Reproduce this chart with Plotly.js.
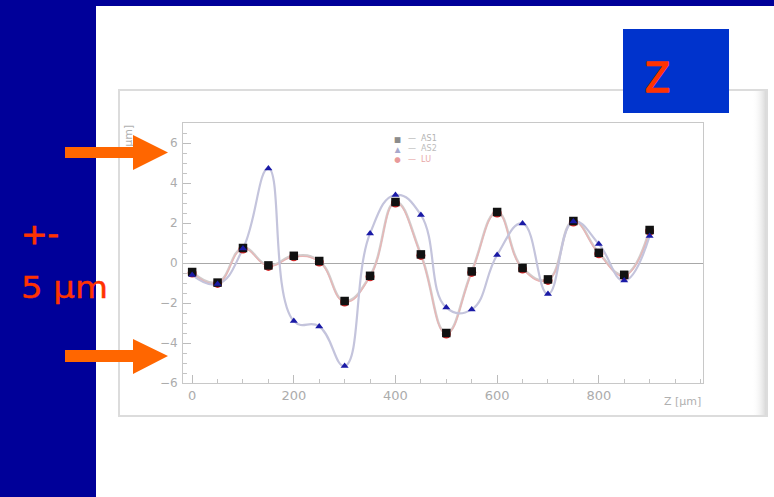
<!DOCTYPE html>
<html>
<head>
<meta charset="utf-8">
<script src="https://cdn.plot.ly/plotly-3.0.1.min.js"></script>
<style>
  html, body { margin: 0; padding: 0; background: #ffffff; }
  #slide { position: relative; width: 774px; height: 497px; overflow: hidden; background: #ffffff; }
  #bg, #fg { position: absolute; left: 0; top: 0; }
  #chart { position: absolute; left: 0; top: 0; width: 774px; height: 497px; }
</style>
</head>
<body>
<div id="slide">
  <svg id="bg" width="774" height="497">
    <defs>
      <linearGradient id="shade" x1="0" x2="1" y1="0" y2="0">
        <stop offset="0" stop-color="#ffffff" stop-opacity="0"/>
        <stop offset="1" stop-color="#d8d8d8" stop-opacity="1"/>
      </linearGradient>
    </defs>
    <!-- slide frame: dark band on the left and along the top -->
    <rect x="0" y="0" width="96" height="497" fill="#000099"/>
    <rect x="0" y="0" width="774" height="6" fill="#000099"/>
    <!-- canvas panel around the graph -->
    <rect x="119" y="90" width="648" height="326" fill="#ffffff" stroke="#dcdcdc" stroke-width="2"/>
    <rect x="752" y="91" width="14" height="324" fill="url(#shade)"/>
  </svg>
  <div id="chart"></div>
  <svg id="fg" width="774" height="497">
    <!-- coordinate label box -->
    <rect x="623" y="29" width="106" height="84" fill="#0033cc"/>
    <text x="645" y="92" font-family="DejaVu Sans, sans-serif" font-size="40" fill="#ff3300" stroke="#ff3300" stroke-width="1.6" stroke-linejoin="round" textLength="25" lengthAdjust="spacingAndGlyphs">Z</text>
    <!-- tolerance note -->
    <text x="21" y="244" font-family="DejaVu Sans, sans-serif" font-size="28" fill="#ff3300" stroke="#ff3300" stroke-width="0.8" textLength="38" lengthAdjust="spacingAndGlyphs">+-</text>
    <text x="21" y="298" font-family="DejaVu Sans, sans-serif" font-size="31" fill="#ff3300" stroke="#ff3300" stroke-width="0.4" textLength="87" lengthAdjust="spacingAndGlyphs">5 µm</text>
    <!-- arrows pointing at the ±5 µm levels -->
    <polygon points="65,147 133,147 133,135 168,152.5 133,170 133,158 65,158" fill="#ff6600"/>
    <polygon points="65,350 133,350 133,339 168,356 133,374 133,362 65,362" fill="#ff6600"/>
  </svg>
</div>
<script>
// Z positions along the sensor [µm]
const zPos = [0, 50, 100, 150, 200, 250, 300, 350, 400, 450, 500, 550, 600, 650, 700, 750, 800, 850, 900];

// measured deviations [µm] for each survey
const as1 = [-0.45, -0.98, 0.75, -0.12, 0.36, 0.10, -1.90, -0.64, 3.05, 0.43, -3.50, -0.42, 2.55, -0.25, -0.82, 2.10, 0.51, -0.59, 1.65];
const as2 = [-0.60, -1.05, 0.72, 4.73, -2.90, -3.17, -5.15, 1.48, 3.40, 2.40, -2.23, -2.32, 0.40, 1.98, -1.55, 2.07, 0.95, -0.88, 1.35];
const lu  = [-0.50, -1.02, 0.70, -0.17, 0.31, 0.05, -1.95, -0.69, 3.00, 0.38, -3.55, -0.47, 2.50, -0.30, -0.87, 2.05, 0.46, -0.64, 1.60];

const seriesNames = ["AS1", "AS2", "LU"];
const xTicks = [0, 200, 400, 600, 800];
const yTicks = [-6, -4, -2, 0, 2, 4, 6];

const lineShape = { shape: "spline", smoothing: 1.3 };

const traces = [
  // smooth curves underneath
  { x: zPos, y: as1, mode: "lines", line: Object.assign({ color: "#d2cccc", width: 2.6 }, lineShape), hoverinfo: "skip" },
  { x: zPos, y: lu,  mode: "lines", line: Object.assign({ color: "#e9b4b4", width: 1.2 }, lineShape), hoverinfo: "skip" },
  { x: zPos, y: as2, mode: "lines", line: Object.assign({ color: "#c4c4dc", width: 2.2 }, lineShape), hoverinfo: "skip" },
  // markers on top
  { x: zPos, y: lu,  mode: "markers", name: seriesNames[2], marker: { symbol: "circle", size: 9, color: "#d42a2a" } },
  { x: zPos, y: as1, mode: "markers", name: seriesNames[0], marker: { symbol: "square", size: 8.5, color: "#111111" } },
  { x: zPos, y: as2, mode: "markers", name: seriesNames[1], marker: { symbol: "triangle-up", size: 7, color: "#1a1aa6" } }
];

// plot area in pixels: x 183..703, y 123..383
const px = v => (v - 183) / 520;
const py = v => (383 - v) / 260;

// legend: marker column and label column, three rows each
const legendSyms = [["■", "#8c8c8c"], ["▲", "#a8a8cc"], ["●", "#e89a9a"]];
const legendCols = ["#b4b4b4", "#bcbcbc", "#e8a8a8"];
const symText = legendSyms.map(s => '<span style="color:' + s[1] + '">' + s[0] + '</span>').join("<br>");
const labText = seriesNames.map((n, i) => '<span style="color:' + legendCols[i] + '">—  ' + n + '</span>').join("<br>");

const annotations = [
  { xref: "paper", yref: "paper", x: px(397), y: py(149), text: symText, showarrow: false, align: "center",
    xanchor: "center", yanchor: "middle", font: { family: "DejaVu Sans", size: 7.5, color: "#999" } },
  { xref: "paper", yref: "paper", x: px(406), y: py(149), text: labText, showarrow: false, align: "left",
    xanchor: "left", yanchor: "middle", font: { family: "DejaVu Sans", size: 8, color: "#b4b4b4" } },
  { xref: "paper", yref: "paper", x: px(128), y: py(123), text: "[µm]", textangle: -90, showarrow: false,
    xanchor: "center", yanchor: "top", font: { family: "DejaVu Sans", size: 11, color: "#b0b0b0" } },
  { xref: "paper", yref: "paper", x: 1.0, y: py(401), text: "Z [µm]", showarrow: false,
    xanchor: "right", yanchor: "middle", font: { family: "DejaVu Sans", size: 11, color: "#b0b0b0" } }
];

const axisCommon = {
  showgrid: false, showline: true, mirror: true, linecolor: "#c8c8c8", linewidth: 1,
  ticks: "inside", ticklen: 8, tickcolor: "#bcbcbc", tickwidth: 1,
  tickfont: { family: "DejaVu Sans", size: 13, color: "#acacac" }
};

const layout = {
  width: 774, height: 497,
  margin: { l: 183, r: 71, t: 123, b: 114, pad: 0 },
  paper_bgcolor: "rgba(0,0,0,0)", plot_bgcolor: "rgba(0,0,0,0)",
  showlegend: false,
  xaxis: Object.assign({}, axisCommon, {
    range: [-18, 1005], tickvals: xTicks, ticktext: xTicks.map(String), zeroline: false,
    minor: { dtick: 50, tick0: 0, ticks: "inside", ticklen: 4, tickcolor: "#c4c4c4" }
  }),
  yaxis: Object.assign({}, axisCommon, {
    range: [-6, 7], tickvals: yTicks, ticktext: yTicks.map(v => v < 0 ? "\u2212" + Math.abs(v) : String(v)),
    zeroline: true, zerolinecolor: "#a8a8a8", zerolinewidth: 1, ticklabelstandoff: 2,
    tickfont: { family: "DejaVu Sans", size: 12, color: "#acacac" },
    minor: { dtick: 0.5, tick0: 0, ticks: "inside", ticklen: 4, tickcolor: "#c4c4c4" }
  }),
  annotations: annotations
};

Plotly.newPlot("chart", traces, layout, { staticPlot: true, displayModeBar: false });
</script>
</body>
</html>
